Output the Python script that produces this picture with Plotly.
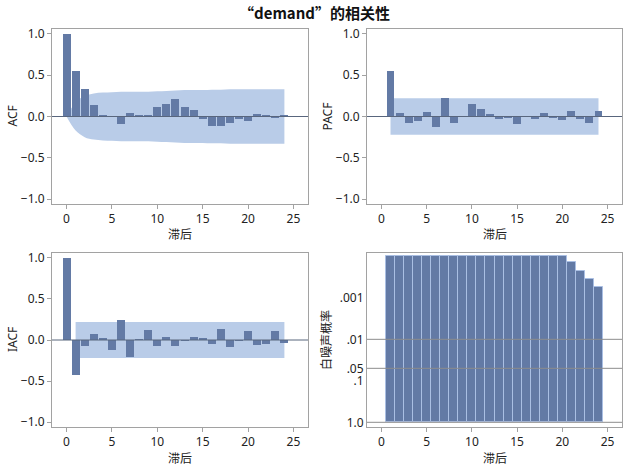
import plotly.graph_objects as go
from plotly.subplots import make_subplots

# ---------------- data ----------------
acf_lags = list(range(0, 25))
acf_vals = [1.0, 0.552, 0.339, 0.145, 0.01, -0.004, -0.093, 0.048, 0.015, 0.024,
            0.12, 0.157, 0.218, 0.12, 0.073, -0.032, -0.109, -0.121, -0.081, -0.032,
            -0.06, 0.028, 0.024, -0.012, 0.015]
acf_band = [0.0, 0.17, 0.25, 0.28, 0.29, 0.295, 0.30, 0.30, 0.30, 0.30,
            0.305, 0.31, 0.315, 0.32, 0.32, 0.32, 0.325, 0.325, 0.33, 0.33,
            0.33, 0.33, 0.33, 0.33, 0.33]

pacf_lags = list(range(1, 25))
pacf_vals = [0.552, 0.044, -0.08, -0.056, 0.056, -0.129, 0.226, -0.08, 0.004, 0.157,
             0.089, 0.032, -0.036, -0.02, -0.093, -0.004, -0.032, 0.044, -0.02, -0.044,
             0.069, -0.032, -0.08, 0.069]

iacf_lags = list(range(0, 25))
iacf_vals = [1.0, -0.425, -0.073, 0.077, 0.016, -0.121, 0.247, -0.206, 0.008, 0.117,
             -0.077, 0.04, -0.077, -0.008, 0.032, 0.016, -0.049, 0.13, -0.089, -0.008,
             0.105, -0.061, -0.049, 0.105, -0.04]

band_lags = [1, 24]
band_limit = 0.22

wn_lags = list(range(1, 25))
wn_prob = [0.0001] * 20 + [0.000137, 0.000222, 0.000347, 0.00054]

prob_ticks = [0.001, 0.01, 0.05, 0.1, 1.0]
prob_labels = [".001", ".01", ".05", ".1", "1.0"]
prob_lines = [0.01, 0.05, 1.0]
corr_ticks = [1.0, 0.5, 0.0, -0.5, -1.0]

BAR = "#637aa5"
BAND = "#b9cce8"
FRAME = "#a2a2a2"
ZERO = "#59667d"
TXT = "#222"
FONT = "Noto Sans, Noto Sans CJK SC, sans-serif"
XRANGE = [-1.6, 26.6]
YRANGE = [-1.06, 1.06]

fig = make_subplots(rows=2, cols=2)


def corr_panel(n, lags, vals, band_x, lo, hi, spline=False):
    # band on the base axes, bars on an overlaying pair so they sit on top
    xa, ya = "x" + ("" if n == 1 else str(n)), "y" + ("" if n == 1 else str(n))
    ox, oy = "x" + str(n + 4), "y" + str(n + 4)
    shape = "spline" if spline else "linear"
    fig.add_trace(go.Scatter(x=band_x, y=lo, mode="lines", line=dict(width=0, shape=shape),
                             xaxis=xa, yaxis=ya, showlegend=False, hoverinfo="skip"))
    fig.add_trace(go.Scatter(x=band_x, y=hi, mode="lines", line=dict(width=0, shape=shape),
                             fill="tonexty", fillcolor=BAND, xaxis=xa, yaxis=ya,
                             showlegend=False, hoverinfo="skip"))
    fig.add_trace(go.Bar(x=lags, y=vals, width=0.88, marker=dict(color=BAR, line=dict(width=0)),
                         xaxis=ox, yaxis=oy, showlegend=False))
    fig.layout["xaxis" + str(n + 4)] = dict(overlaying=xa, range=XRANGE, visible=False)
    fig.layout["yaxis" + str(n + 4)] = dict(overlaying=ya, anchor=ox, range=YRANGE, visible=False)
    fig.add_shape(type="line", xref=xa + " domain", yref=ya, x0=0, x1=1, y0=0, y1=0,
                  line=dict(color=ZERO, width=1), layer="above")


corr_panel(1, acf_lags, acf_vals, acf_lags, [-b for b in acf_band], acf_band, spline=True)
corr_panel(2, pacf_lags, pacf_vals, band_lags, [-band_limit] * 2, [band_limit] * 2)
corr_panel(3, iacf_lags, iacf_vals, band_lags, [-band_limit] * 2, [band_limit] * 2)

# white noise probabilities, bars grow from 1.0 upward on a reversed log axis
fig.add_trace(go.Bar(x=wn_lags, y=[p - 1 for p in wn_prob], base=1, width=1.0,
                     marker=dict(color=BAR, line=dict(color="#aabfe3", width=1)),
                     showlegend=False), row=2, col=2)
for v in prob_lines:
    fig.add_trace(go.Scatter(x=[XRANGE[0] - 5, XRANGE[1] + 5], y=[v, v], mode="lines",
                             line=dict(color="#8c8c8c", width=1), showlegend=False,
                             hoverinfo="skip"), row=2, col=2)

# ---------------- layout ----------------
W, H = 629, 475
xl = [52 / W, 308 / W]
xr = [367 / W, 622 / W]
yt = [1 - 204 / H, 1 - 29 / H]
yb = [1 - 427 / H, 1 - 253 / H]

axis_common = dict(showline=True, linecolor=FRAME, linewidth=1, mirror=True,
                   ticks="outside", ticklen=4, tickcolor=FRAME, showgrid=False,
                   zeroline=False, automargin=False, tickfont=dict(size=12, color=TXT))

for i, (xd, yd) in enumerate([(xl, yt), (xr, yt), (xl, yb), (xr, yb)], start=1):
    fig.layout["xaxis" + ("" if i == 1 else str(i))].update(
        domain=xd, range=XRANGE, tickvals=[0, 5, 10, 15, 20, 25], **axis_common)
    fig.layout["yaxis" + ("" if i == 1 else str(i))].update(domain=yd, **axis_common)

for ax in ["yaxis", "yaxis2", "yaxis3"]:
    fig.layout[ax].update(range=YRANGE, tickvals=corr_ticks, tickformat=".1f")

fig.layout["yaxis4"].update(type="log", range=[0.113, -4.08], tickvals=prob_ticks,
                            ticktext=prob_labels, ticks="")

# axis titles placed as paper annotations
titles = [
    ("ACF", 12, 116.5, -90), ("PACF", 327, 116.5, -90),
    ("IACF", 12, 340, -90), ("白噪声概率", 326, 340, -90),
    ("滞后", 180, 234, 0), ("滞后", 494.5, 234, 0),
    ("滞后", 180, 458, 0), ("滞后", 494.5, 458, 0),
]
for text, px, py, ang in titles:
    fig.add_annotation(text=text, x=px / W, y=1 - py / H, xref="paper", yref="paper",
                       xanchor="center", yanchor="middle", textangle=ang, showarrow=False,
                       font=dict(size=12, color=TXT))

fig.update_layout(
    width=W, height=H,
    margin=dict(l=0, r=0, t=0, b=0),
    paper_bgcolor="white", plot_bgcolor="white",
    font=dict(family=FONT, size=12, color=TXT),
    bargap=0,
    title=dict(text="“demand”的相关性", x=0.5, xanchor="center", y=1 - 13.5 / H,
               yanchor="middle",
               font=dict(family="Noto Sans CJK SC, sans-serif", size=15, color="#111",
                         weight="bold")),
)

# drop the browser's default page margin so the figure sits at the window origin
fig.write_html("out.html", config={"displayModeBar": False},
               post_script="document.body.style.margin='0';")
